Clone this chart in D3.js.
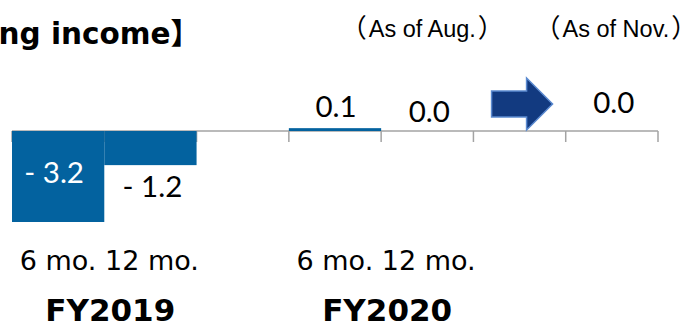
<!DOCTYPE html>
<html>
<head>
<meta charset="utf-8">
<script src="https://cdn.jsdelivr.net/npm/d3@7"></script>
<style>
  html, body { margin: 0; padding: 0; background: #fff; overflow: hidden; }
</style>
</head>
<body>
<svg id="chart" width="691" height="324"></svg>
<script>
// Operating income by period (billion yen)
const categories = ["FY2019 6 mo.", "FY2019 12 mo.", "spacer", "FY2020 6 mo.", "FY2020 12 mo.", "arrow", "FY2020 12 mo. (Nov.)"];
const values = [-3.2, -1.2, null, 0.1, 0.0, null, 0.0];
const title = "【Operating income】";
const periodLabels = ["6 mo. 12 mo.", "6 mo. 12 mo."];
const fiscalYears = ["FY2019", "FY2020"];
const fiscalYearCats = [["FY2019 6 mo.", "FY2019 12 mo."], ["FY2020 6 mo.", "FY2020 12 mo."]];
const asOfLabels = ["As of Aug.", "As of Nov."];
const asOfCats = ["FY2020 12 mo.", "FY2020 12 mo. (Nov.)"];

const svg = d3.select("#chart");
const BAR = "#03629f";

const x = d3.scaleBand().domain(categories).range([12, 658]).paddingInner(0).paddingOuter(0);
const y = d3.scaleLinear().domain([-3.2, 0]).range([222, 131]);
const bw = x.bandwidth();

// title (runs off the left edge)
svg.append("text")
  .attr("x", 200).attr("y", 44)
  .attr("text-anchor", "end")
  .attr("font-family", "'DejaVu Sans', 'Noto Sans CJK JP', sans-serif")
  .attr("font-weight", "bold").attr("font-size", 29.5)
  .attr("fill", "#000")
  .text(title);

// "as of" notes, in full-width parentheses
const asof = svg.selectAll("text.asof").data(asOfLabels).join("text")
  .attr("class", "asof")
  .attr("x", (d, i) => x(asOfCats[i]) + bw / 2 + (i === 0 ? -5 : 4))
  .attr("y", 37)
  .attr("text-anchor", "middle")
  .attr("font-family", "'Liberation Sans', 'Noto Sans CJK JP', sans-serif")
  .attr("font-size", 23.5)
  .attr("fill", "#000");
asof.append("tspan").attr("font-size", 26).attr("font-family", "'Noto Sans CJK JP', sans-serif").text("（");
asof.append("tspan").attr("dx", 2).text(d => d);
asof.append("tspan").attr("dx", 2).attr("font-size", 26).attr("font-family", "'Noto Sans CJK JP', sans-serif").text("）");

// axis line with ticks on band boundaries
const bounds = categories.map(c => x(c)).concat([x.range()[1]]);
const axis = svg.append("g").attr("stroke", "#a3a3a3").attr("stroke-width", 1.5).attr("fill", "none");
axis.append("line").attr("x1", x.range()[0]).attr("x2", x.range()[1]).attr("y1", y(0)).attr("y2", y(0));
axis.selectAll("line.tick").data(bounds).join("line")
  .attr("class", "tick")
  .attr("x1", d => d).attr("x2", d => d)
  .attr("y1", y(0)).attr("y2", y(0) + 11);

// bars
const data = categories.map((c, i) => ({ c, v: values[i], i })).filter(d => d.v !== null);
svg.selectAll("rect.bar").data(data).join("rect")
  .attr("class", "bar")
  .attr("x", d => x(d.c))
  .attr("width", bw)
  .attr("y", d => y(Math.max(0, d.v)))
  .attr("height", d => Math.abs(y(d.v) - y(0)))
  .attr("fill", BAR);

// value labels
const fmt = v => (v < 0 ? "- " + Math.abs(v).toFixed(1) : v.toFixed(1));
const nudge = { 0: [-4, -1], 1: [2, 0], 3: [1, 0], 4: [2, 2], 6: [2, -7] };
function labelY(v) {
  if (v <= -2) return y(v / 2) + 7;      // inside the bar
  if (v < 0) return y(v) + 32;           // below the bar end
  return y(v) - 11;                      // above the bar end
}
svg.selectAll("text.val").data(data).join("text")
  .attr("class", "val")
  .attr("x", d => x(d.c) + bw / 2 + (nudge[d.i] ? nudge[d.i][0] : 0))
  .attr("y", d => labelY(d.v) + (nudge[d.i] ? nudge[d.i][1] : 0))
  .attr("text-anchor", "middle")
  .attr("font-family", "Lato, 'Open Sans', sans-serif")
  .attr("font-size", 29.5)
  .attr("fill", d => (d.v <= -2 ? "#fff" : "#000"))
  .text(d => fmt(d.v));

// block arrow between the August and November figures
const acx = x("arrow") + bw / 2 + 2.5;
const acy = y(0) - 27;
svg.append("path")
  .attr("transform", `translate(${acx},${acy})`)
  .attr("d", "M-30.5,-13 L4.5,-13 L4.5,-26 L30.5,0 L4.5,26 L4.5,13 L-30.5,13 Z")
  .attr("fill", "#123a80")
  .attr("stroke", "#5b8ad0")
  .attr("stroke-width", 1.5)
  .attr("stroke-linejoin", "miter");

// period and fiscal-year labels
const groupCenter = cats => (x(cats[0]) + x(cats[cats.length - 1]) + bw) / 2;
svg.selectAll("text.period").data(periodLabels).join("text")
  .attr("class", "period")
  .attr("x", (d, i) => groupCenter(fiscalYearCats[i]) + 5)
  .attr("y", 270)
  .attr("text-anchor", "middle")
  .attr("font-family", "'DejaVu Sans', sans-serif")
  .attr("font-size", 27)
  .attr("fill", "#000")
  .text(d => d);

svg.selectAll("text.fy").data(fiscalYears).join("text")
  .attr("class", "fy")
  .attr("x", (d, i) => groupCenter(fiscalYearCats[i]) + 6)
  .attr("y", 321)
  .attr("text-anchor", "middle")
  .attr("font-family", "'DejaVu Sans', sans-serif")
  .attr("font-weight", "bold")
  .attr("font-size", 31)
  .attr("fill", "#000")
  .text(d => d);
</script>
</body>
</html>
